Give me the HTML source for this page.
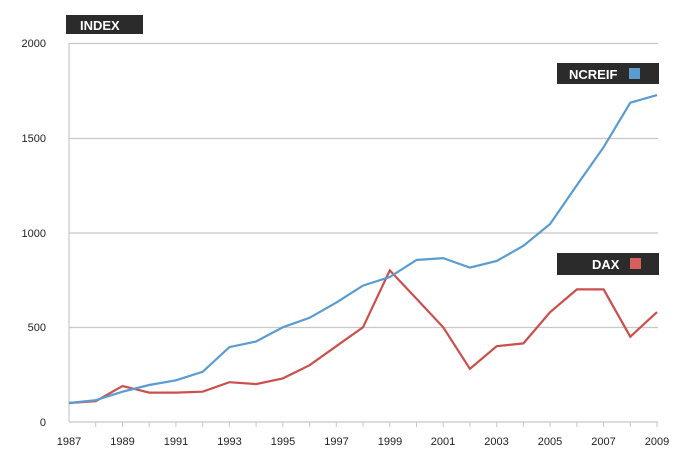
<!DOCTYPE html>
<html><head><style>body{margin:0;background:#fff}svg{display:block}</style></head>
<body>
<svg width="697" height="475" xmlns="http://www.w3.org/2000/svg" font-family="Liberation Sans, sans-serif">
<g stroke="#c8c8c8" stroke-width="1.2">
<line x1="69" y1="43.5" x2="658" y2="43.5"/>
<line x1="69" y1="138.5" x2="658" y2="138.5"/>
<line x1="69" y1="233" x2="658" y2="233"/>
<line x1="69" y1="327.5" x2="658" y2="327.5"/>
<line x1="69" y1="422" x2="658" y2="422"/>
<line x1="69" y1="43" x2="69" y2="422"/>
</g>
<g stroke="#c8c8c8" stroke-width="1" id="ticks"></g>
<g font-size="11" fill="#222" text-anchor="end">
<text x="46" y="47">2000</text><text x="46" y="142">1500</text><text x="46" y="237">1000</text><text x="46" y="331">500</text><text x="46" y="426">0</text>
</g>
<g font-size="11" fill="#222" text-anchor="middle">
<text x="69" y="445">1987</text><text x="122.5" y="445">1989</text><text x="176" y="445">1991</text><text x="229.5" y="445">1993</text><text x="283" y="445">1995</text><text x="336.5" y="445">1997</text><text x="390" y="445">1999</text><text x="443" y="445">2001</text><text x="496.5" y="445">2003</text><text x="550" y="445">2005</text><text x="603.5" y="445">2007</text><text x="657" y="445">2009</text>
</g>
<polyline fill="none" stroke="#cd4f4c" stroke-width="2.2" points="69,403 95.7,401.2 122.5,386 149.2,392.6 175.9,392.6 202.7,391.7 229.4,382.2 256.1,384.1 282.8,378.4 309.6,365.2 336.3,346.2 363,327.3 389.8,270.4 416.5,298.8 443.2,327.3 469.9,368.9 496.7,346.2 523.4,343.4 550.1,312.1 576.9,289.4 603.6,289.4 630.3,336.7 657,312.1"/>
<polyline fill="none" stroke="#5a9bd0" stroke-width="2.2" points="69,403 95.7,400.2 122.5,391.7 149.2,385 175.9,380.3 202.7,371.8 229.4,347.1 256.1,341.5 282.8,327.3 309.6,317.8 336.3,302.6 363,285.6 389.8,277 416.5,260 443.2,258.1 469.9,267.6 496.7,261 523.4,245.8 550.1,224 576.9,185.1 603.6,147.2 630.3,102.7 657,95.1"/>
<rect x="66" y="15" width="77" height="19" fill="#2b2b2b"/>
<text x="80" y="30" font-size="13" font-weight="bold" fill="#fff">INDEX</text>
<rect x="557" y="63" width="102" height="21" fill="#2b2b2b"/>
<text x="569" y="79" font-size="13" font-weight="bold" fill="#fff">NCREIF</text>
<rect x="629" y="68" width="11" height="11" fill="#5a9bd0"/>
<rect x="557" y="253" width="102" height="22" fill="#2b2b2b"/>
<text x="592" y="269" font-size="13" font-weight="bold" fill="#fff">DAX</text>
<rect x="630" y="258" width="11" height="11" fill="#d95f5c"/>
<g stroke="#c8c8c8">
<line x1="95.7" y1="422" x2="95.7" y2="427"/><line x1="122.5" y1="422" x2="122.5" y2="427"/><line x1="149.2" y1="422" x2="149.2" y2="427"/><line x1="175.9" y1="422" x2="175.9" y2="427"/><line x1="202.7" y1="422" x2="202.7" y2="427"/><line x1="229.4" y1="422" x2="229.4" y2="427"/><line x1="256.1" y1="422" x2="256.1" y2="427"/><line x1="282.8" y1="422" x2="282.8" y2="427"/><line x1="309.6" y1="422" x2="309.6" y2="427"/><line x1="336.3" y1="422" x2="336.3" y2="427"/><line x1="363" y1="422" x2="363" y2="427"/><line x1="389.8" y1="422" x2="389.8" y2="427"/><line x1="416.5" y1="422" x2="416.5" y2="427"/><line x1="443.2" y1="422" x2="443.2" y2="427"/><line x1="469.9" y1="422" x2="469.9" y2="427"/><line x1="496.7" y1="422" x2="496.7" y2="427"/><line x1="523.4" y1="422" x2="523.4" y2="427"/><line x1="550.1" y1="422" x2="550.1" y2="427"/><line x1="576.9" y1="422" x2="576.9" y2="427"/><line x1="603.6" y1="422" x2="603.6" y2="427"/><line x1="630.3" y1="422" x2="630.3" y2="427"/><line x1="657" y1="422" x2="657" y2="427"/>
</g>
</svg>
</body></html>
